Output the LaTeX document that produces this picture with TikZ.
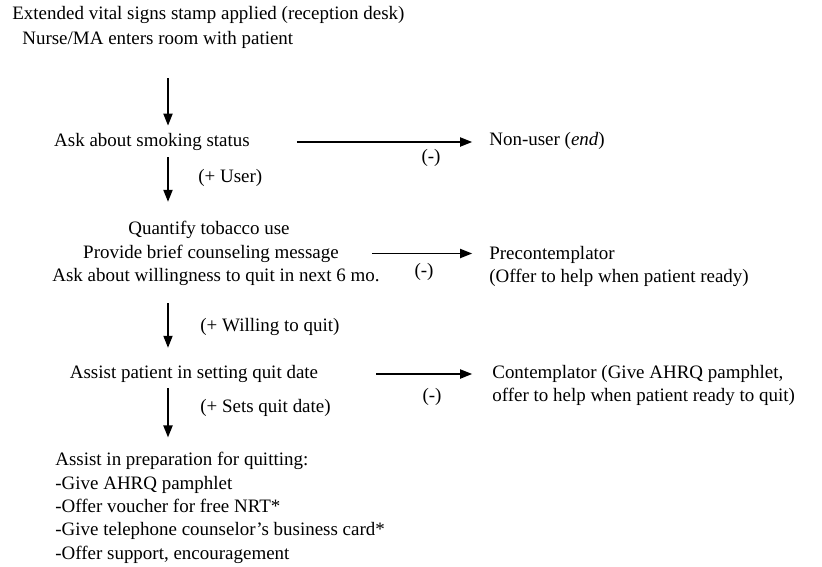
\documentclass[tikz,border=0pt]{standalone}
\usepackage{fontspec}
\setmainfont{Liberation Serif}
\usetikzlibrary{arrows.meta,positioning}

\tikzset{
  flow/.style  = {-{Triangle[length=6.8pt,width=5.2pt]}, line width=0.8pt},
  txt/.style   = {inner sep=0pt, text height=8pt, text depth=2.5pt},
  lbl/.style   = {txt, anchor=west},
  block/.style = {inner sep=0pt, align=left, anchor=north west},
}

\begin{document}
\begin{tikzpicture}[x=0.02cm, y=-0.02cm, font=\fontsize{10.8}{13.3}\selectfont]
	\useasboundingbox (0,0) rectangle (822,566);
	\coordinate (spine) at (168,0);
	% header
	\node[lbl] (stamp) at (12,15) {Extended vital signs stamp applied (reception desk)};
	\node[lbl] (enter) at (22,40) {Nurse/MA enters room with patient};
	% main column
	\node[txt] (ask) at (152,142) {Ask about smoking status};
	\node[txt] (q1) at (209,230) {Quantify tobacco use};
	\node[txt] (q2) at (211,253.5) {Provide brief counseling message};
	\node[txt] (q3) at (216,277) {Ask about willingness to quit in next 6 mo.};
	\node[txt] (assist) at (194,374) {Assist patient in setting quit date};
	\node[block] (prep) at (55,452) {Assist in preparation for quitting:\\-Give AHRQ pamphlet\\-Offer voucher for free NRT*\\-Give telephone counselor's business card*\\-Offer support, encouragement};
	% outcomes
	\node[lbl] (nonuser) at (489,141) {Non-user (\textit{end})};
	\node[block] (precon) at (489,246) {Precontemplator\\(Offer to help when patient ready)};
	\node[block] (contem) at (492,365) {Contemplator (Give AHRQ pamphlet,\\offer to help when patient ready to quit)};
	% yes branch
	\draw[flow, shorten <=16.3pt, shorten >=3.9pt] (enter.south -| spine) -- (ask.north -| spine);
	\draw[flow, shorten <=3.2pt, shorten >=10.6pt] (ask.south -| spine) -- (q1.north -| spine);
	\draw[flow, shorten <=9.5pt, shorten >=9.5pt] (q3.south -| spine) -- (assist.north -| spine);
	\draw[flow, shorten <=2.7pt, shorten >=8.3pt] (assist.south -| spine) -- (prep.north -| spine);
	\node[lbl] (user) at (198,178) {(+ User)};
	\node[lbl] (willing) at (200,327) {(+ Willing to quit)};
	\node[lbl] (sets) at (200,408) {(+ Sets quit date)};
	% no branch
	\draw[flow, shorten <=26.6pt, shorten >=9.6pt] (ask.east) -- (ask.east -| nonuser.west);
	\draw[flow, shorten <=18.7pt, shorten >=9.6pt] (q2.east) -- (q2.east -| precon.west);
	\draw[flow, shorten <=32.9pt, shorten >=11.3pt] (assist.east) -- (assist.east -| contem.west);
	\node[txt] (no1) at (431,158) {(-)};
	\node[txt] (no2) at (424,272) {(-)};
	\node[txt] (no3) at (432,397) {(-)};
\end{tikzpicture}
\end{document}
